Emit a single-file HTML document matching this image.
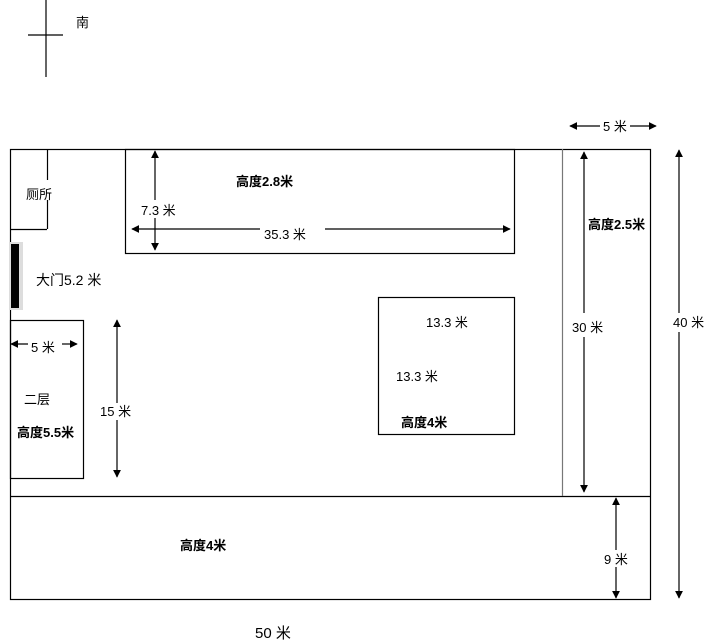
<!DOCTYPE html>
<html><head><meta charset="utf-8"><style>
html,body{margin:0;padding:0;background:#fff;}
svg{display:block}
text{font-family:"Liberation Sans","Noto Sans CJK SC",sans-serif;font-size:13px;fill:#000}
.b{font-weight:bold;font-size:13px}
</style></head><body>
<svg width="709" height="642" viewBox="0 0 709 642" xmlns="http://www.w3.org/2000/svg">
<defs>
<marker id="a" viewBox="0 0 10 10" refX="9" refY="5" markerWidth="8" markerHeight="8" orient="auto-start-reverse" markerUnits="userSpaceOnUse"><path d="M0,0 L10,5 L0,10 z" fill="#000"/></marker>
</defs>
<g stroke="#000" stroke-width="1.2" fill="none">
<line x1="46" y1="0" x2="46" y2="77"/>
<line x1="28" y1="35" x2="63" y2="35"/>
<rect x="10.5" y="149.5" width="640" height="450"/>
<line x1="10" y1="496.5" x2="651" y2="496.5"/>
<line x1="562.5" y1="149" x2="562.5" y2="496" stroke="#777"/>
<line x1="47.5" y1="149" x2="47.5" y2="180"/>
<line x1="47.5" y1="200" x2="47.5" y2="229"/>
<line x1="10" y1="229.5" x2="47" y2="229.5"/>
<rect x="125.5" y="149.5" width="389" height="104"/>
<rect x="10.5" y="320.5" width="73" height="158"/>
<rect x="378.5" y="297.5" width="136" height="137"/>
</g>
<rect x="9" y="242" width="14" height="68" fill="#ddd"/>
<rect x="11" y="244" width="8" height="64" fill="#000"/>
<g stroke="#000" stroke-width="1.2" fill="none" marker-end="url(#a)">
<line x1="155" y1="200" x2="155" y2="151" />
<line x1="155" y1="218" x2="155" y2="250" />
<line x1="260" y1="229" x2="132" y2="229"/>
<line x1="325" y1="229" x2="510" y2="229"/>
<line x1="28" y1="344" x2="11" y2="344"/>
<line x1="62" y1="344" x2="77" y2="344"/>
<line x1="117" y1="403" x2="117" y2="320"/>
<line x1="117" y1="420" x2="117" y2="477"/>
<line x1="600" y1="126" x2="570" y2="126"/>
<line x1="630" y1="126" x2="656" y2="126"/>
<line x1="584" y1="313" x2="584" y2="152"/>
<line x1="584" y1="337" x2="584" y2="492"/>
<line x1="679" y1="313" x2="679" y2="150"/>
<line x1="679" y1="332" x2="679" y2="598"/>
<line x1="616" y1="550" x2="616" y2="498"/>
<line x1="616" y1="567" x2="616" y2="598"/>
</g>
<text x="76" y="27">南</text>
<text x="26" y="199">厕所</text>
<text x="236" y="186" class="b">高度2.8米</text>
<text x="141" y="215">7.3 米</text>
<text x="264" y="239">35.3 米</text>
<text x="36" y="285" style="font-size:14px">大门5.2 米</text>
<text x="31" y="352">5 米</text>
<text x="24" y="404">二层</text>
<text x="17" y="437" class="b">高度5.5米</text>
<text x="100" y="416">15 米</text>
<text x="588" y="229" class="b">高度2.5米</text>
<text x="603" y="131">5 米</text>
<text x="426" y="327">13.3 米</text>
<text x="396" y="381">13.3 米</text>
<text x="401" y="427" class="b">高度4米</text>
<text x="572" y="332">30 米</text>
<text x="673" y="327">40 米</text>
<text x="180" y="550" class="b">高度4米</text>
<text x="604" y="564">9 米</text>
<text x="255" y="638" style="font-size:15px">50 米</text>
</svg>
</body></html>
